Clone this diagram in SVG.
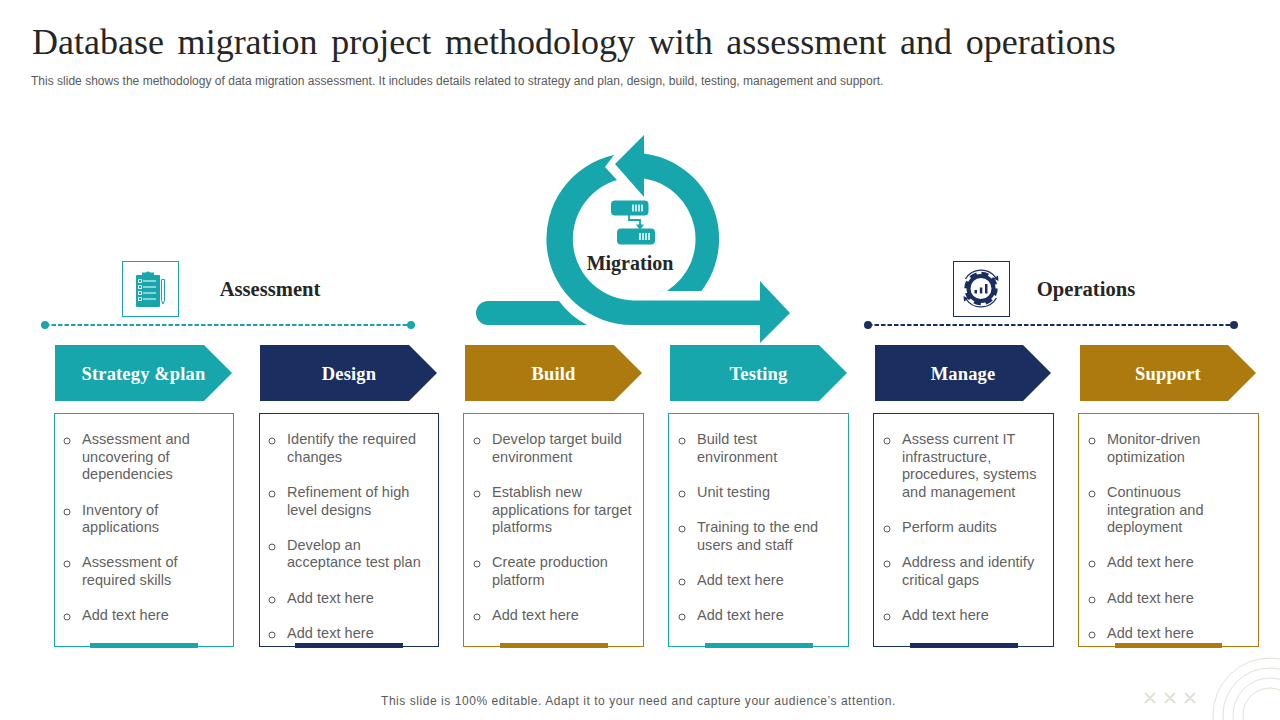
<svg xmlns="http://www.w3.org/2000/svg" width="1280" height="720" viewBox="0 0 1280 720">
<style>
.teal{fill:#17a6ab}.navy{fill:#1a2e5f}.gold{fill:#ad7a10}
.title{font:36px "Liberation Serif",serif;fill:#262626;word-spacing:4.7px}
.sub{font:12px "Liberation Sans",Arial,sans-serif;fill:#595959;letter-spacing:.012px}
.foot{font:12px "Liberation Sans",Arial,sans-serif;fill:#595959;letter-spacing:.555px}
.head{font:bold 20.600px "Liberation Serif",serif;fill:#262626;text-anchor:middle}
.mig{font:bold 20px "Liberation Serif",serif;fill:#262626;text-anchor:middle}
.lab{font:bold 18.500px "Liberation Serif",serif;fill:#fff;text-anchor:middle;letter-spacing:.15px}
.item{font:14.500px "Liberation Sans",Arial,sans-serif;fill:#5f5f5f;letter-spacing:.04px}
.bul{fill:none;stroke:#595959;stroke-width:1}
.card{fill:#fff;stroke-width:1}
.deco{fill:none;stroke:#e4e1d8;stroke-width:1}
.x{fill:none;stroke:#e4e1d4;stroke-width:2.200}
</style>
<g id="header">
<text class="title" x="32" y="54">Database migration project methodology with assessment and operations</text>
<text class="sub" x="31" y="85">This slide shows the methodology of data migration assessment. It includes details related to strategy and plan, design, build, testing, management and support.</text>
</g>
<g id="migration">
<path class="teal" d="M614,155L605,167L617,180A61.5,61.5 0 0 0 633.5,300.5L760,300.5L760,281L790,313L760,343L760,325L633.5,325A86,86 0 0 1 614,155Z"/>
<path class="teal" d="M615,164L644,135L644,153.6A86,86 0 0 1 701.5,291L667,291A61.5,61.5 0 0 0 644,178.4L644,197Z"/>
<path class="teal" d="M488,301L559,301Q570,316 587,325L488,325A12,12 0 0 1 488,301Z"/>
<rect class="teal" x="611" y="200.500" width="37.500" height="15" rx="4"/>
<rect class="teal" x="617" y="228.500" width="38" height="16" rx="4"/>
<path d="M629,215V220H640V226" fill="none" stroke="#17a6ab" stroke-width="1.800"/>
<path class="teal" d="M636,224.500H644L640,230Z"/>
<path d="M633,204.500v7M636,204.500v7M639,204.500v7M642,204.500v7M640,233v7M643,233v7M646,233v7M649,233v7" stroke="#fff" stroke-width="1.500" fill="none"/>
<text class="mig" x="630" y="270">Migration</text>
</g>
<g id="assessment">
<rect x="122.500" y="261.500" width="56" height="55" fill="#fff" stroke="#17a6ab"/>
<rect class="teal" x="136" y="275" width="24" height="32" rx="1"/>
<path class="teal" d="M142,275V272.500H146A2.500,2.500 0 0 1 150,272.500H154V275Z"/>
<path d="M143,281H156M143,287H156M143,293H156M143,299H156" stroke="#fff" stroke-width="1.200"/>
<path d="M138.500,279.500h3v3h-3zM138.500,285.500h3v3h-3zM138.500,291.500h3v3h-3zM138.500,297.500h3v3h-3z" fill="none" stroke="#fff" stroke-width="1"/>
<path d="M161.500,279.500h3v21l-1.500,3.500l-1.500,-3.500z" fill="none" stroke="#17a6ab" stroke-width="1"/>
<text class="head" x="270" y="296">Assessment</text>
</g>
<g id="operations">
<rect x="953.500" y="261.500" width="56" height="55" fill="#fff" stroke="#1a2e5f"/>
<circle cx="981" cy="288.500" r="12.500" fill="none" stroke="#1a2e5f" stroke-width="4"/>
<circle cx="981" cy="288.500" r="15" fill="none" stroke="#1a2e5f" stroke-width="3.500" stroke-dasharray="7 4.780"/>
<path d="M965.500,279A18,18 0 0 1 996,278M996.500,298A18,18 0 0 1 966,299" fill="none" stroke="#1a2e5f" stroke-width="1.300"/>
<path class="navy" d="M998.500,281L993.500,278.500L998,275.500ZM963.500,296L968.500,298.500L964,301.500Z"/>
<path class="navy" d="M974.500,290h2.500v3.500h-2.500zM979.800,287.500h2.500v6h-2.500zM985,284h2.500v9.500h-2.500z"/>
<text class="head" x="1086" y="296">Operations</text>
</g>
<g id="connectors">
<path d="M45,325H411" stroke="#17a6ab" stroke-width="2" stroke-dasharray="4.500 2" fill="none"/>
<circle class="teal" cx="45" cy="325" r="4"/><circle class="teal" cx="411" cy="325" r="4"/>
<path d="M868,325H1234" stroke="#1a2e5f" stroke-width="2" stroke-dasharray="4.500 2" fill="none"/>
<circle class="navy" cx="868" cy="325" r="4"/><circle class="navy" cx="1234" cy="325" r="4"/>
</g>
<g id="strategy">
<path class="teal" d="M55,345H204L232,373L204,401H55Z"/>
<text class="lab" x="143.500" y="380">Strategy &amp;plan</text>
<rect class="card" x="54.500" y="413.500" width="179" height="233" stroke="#17a6ab"/>
<rect class="teal" x="90" y="643" width="108" height="5"/>
<g class="bul"><circle cx="67" cy="441" r="3"/><circle cx="67" cy="512" r="3"/><circle cx="67" cy="564" r="3"/><circle cx="67" cy="617" r="3"/></g>
<text class="item"><tspan x="82" y="444">Assessment and</tspan><tspan x="82" y="462">uncovering of</tspan><tspan x="82" y="479">dependencies</tspan><tspan x="82" y="515">Inventory of</tspan><tspan x="82" y="532">applications</tspan><tspan x="82" y="567">Assessment of</tspan><tspan x="82" y="585">required skills</tspan><tspan x="82" y="620">Add text here</tspan></text>
</g>
<g id="design">
<path class="navy" d="M260,345H409L437,373L409,401H260Z"/>
<text class="lab" x="349" y="380">Design</text>
<rect class="card" x="259.500" y="413.500" width="179" height="233" stroke="#1a2e5f"/>
<rect class="navy" x="295" y="643" width="108" height="5"/>
<g class="bul"><circle cx="272" cy="441" r="3"/><circle cx="272" cy="494" r="3"/><circle cx="272" cy="547" r="3"/><circle cx="272" cy="600" r="3"/><circle cx="272" cy="635" r="3"/></g>
<text class="item"><tspan x="287" y="444">Identify the required</tspan><tspan x="287" y="462">changes</tspan><tspan x="287" y="497">Refinement of high</tspan><tspan x="287" y="515">level designs</tspan><tspan x="287" y="550">Develop an</tspan><tspan x="287" y="567">acceptance test plan</tspan><tspan x="287" y="603">Add text here</tspan><tspan x="287" y="638">Add text here</tspan></text>
</g>
<g id="build">
<path class="gold" d="M465,345H614L642,373L614,401H465Z"/>
<text class="lab" x="553.500" y="380">Build</text>
<rect class="card" x="463.500" y="413.500" width="180" height="233" stroke="#ad7a10"/>
<rect class="gold" x="500" y="643" width="108" height="5"/>
<g class="bul"><circle cx="477" cy="441" r="3"/><circle cx="477" cy="494" r="3"/><circle cx="477" cy="564" r="3"/><circle cx="477" cy="617" r="3"/></g>
<text class="item"><tspan x="492" y="444">Develop target build</tspan><tspan x="492" y="462">environment</tspan><tspan x="492" y="497">Establish new</tspan><tspan x="492" y="515">applications for target</tspan><tspan x="492" y="532">platforms</tspan><tspan x="492" y="567">Create production</tspan><tspan x="492" y="585">platform</tspan><tspan x="492" y="620">Add text here</tspan></text>
</g>
<g id="testing">
<path class="teal" d="M670,345H819L847,373L819,401H670Z"/>
<text class="lab" x="758.500" y="380">Testing</text>
<rect class="card" x="668.500" y="413.500" width="180" height="233" stroke="#17a6ab"/>
<rect class="teal" x="705" y="643" width="108" height="5"/>
<g class="bul"><circle cx="682" cy="441" r="3"/><circle cx="682" cy="494" r="3"/><circle cx="682" cy="529" r="3"/><circle cx="682" cy="582" r="3"/><circle cx="682" cy="617" r="3"/></g>
<text class="item"><tspan x="697" y="444">Build test</tspan><tspan x="697" y="462">environment</tspan><tspan x="697" y="497">Unit testing</tspan><tspan x="697" y="532">Training to the end</tspan><tspan x="697" y="550">users and staff</tspan><tspan x="697" y="585">Add text here</tspan><tspan x="697" y="620">Add text here</tspan></text>
</g>
<g id="manage">
<path class="navy" d="M875,345H1023L1051,373L1023,401H875Z"/>
<text class="lab" x="963" y="380">Manage</text>
<rect class="card" x="873.500" y="413.500" width="180" height="233" stroke="#1a2e5f"/>
<rect class="navy" x="910" y="643" width="108" height="5"/>
<g class="bul"><circle cx="887" cy="441" r="3"/><circle cx="887" cy="529" r="3"/><circle cx="887" cy="564" r="3"/><circle cx="887" cy="617" r="3"/></g>
<text class="item"><tspan x="902" y="444">Assess current IT</tspan><tspan x="902" y="462">infrastructure,</tspan><tspan x="902" y="479">procedures, systems</tspan><tspan x="902" y="497">and management</tspan><tspan x="902" y="532">Perform audits</tspan><tspan x="902" y="567">Address and identify</tspan><tspan x="902" y="585">critical gaps</tspan><tspan x="902" y="620">Add text here</tspan></text>
</g>
<g id="support">
<path class="gold" d="M1080,345H1228L1256,373L1228,401H1080Z"/>
<text class="lab" x="1168" y="380">Support</text>
<rect class="card" x="1078.500" y="413.500" width="180" height="233" stroke="#ad7a10"/>
<rect class="gold" x="1115" y="643" width="107" height="5"/>
<g class="bul"><circle cx="1092" cy="441" r="3"/><circle cx="1092" cy="494" r="3"/><circle cx="1092" cy="564" r="3"/><circle cx="1092" cy="600" r="3"/><circle cx="1092" cy="635" r="3"/></g>
<text class="item"><tspan x="1107" y="444">Monitor-driven</tspan><tspan x="1107" y="462">optimization</tspan><tspan x="1107" y="497">Continuous</tspan><tspan x="1107" y="515">integration and</tspan><tspan x="1107" y="532">deployment</tspan><tspan x="1107" y="567">Add text here</tspan><tspan x="1107" y="603">Add text here</tspan><tspan x="1107" y="638">Add text here</tspan></text>
</g>
<g id="footer">
<text class="foot" x="381" y="705">This slide is 100% editable. Adapt it to your need and capture your audience’s attention.</text>
<path class="x" d="M1145,693l10,10m0,-10l-10,10M1165,693l10,10m0,-10l-10,10M1185,693l10,10m0,-10l-10,10"/>
<circle class="deco" cx="1270" cy="715" r="57"/><circle class="deco" cx="1270" cy="715" r="47"/><circle class="deco" cx="1270" cy="715" r="37"/><circle class="deco" cx="1270" cy="715" r="27"/>
</g>
</svg>
